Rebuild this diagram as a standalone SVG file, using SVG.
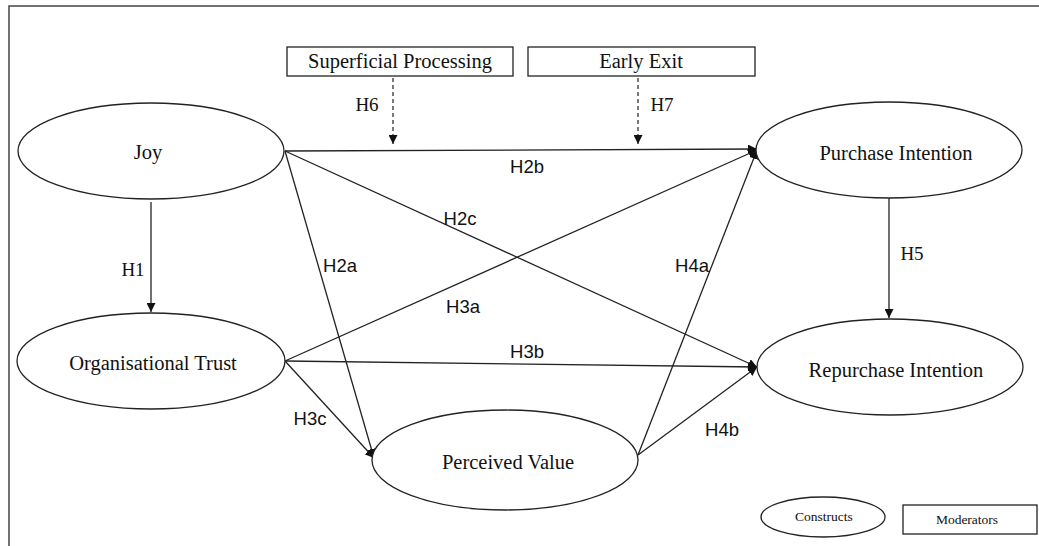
<svg xmlns="http://www.w3.org/2000/svg" width="1039" height="546" viewBox="0 0 1039 546">
<style>
.node{fill:#fff;stroke:#222;stroke-width:1.3}
.t{font-family:"Liberation Serif","Times New Roman",serif;font-size:20.5px;fill:#111;text-anchor:middle}
.h{font-family:"Liberation Sans",Arial,sans-serif;font-size:18.5px;fill:#111;text-anchor:middle}
.hs{font-family:"Liberation Serif","Times New Roman",serif;font-size:19px;fill:#111;text-anchor:middle}
.c{stroke:#222;stroke-width:1.3;fill:none}
.d{stroke:#222;stroke-width:1.2;fill:none;stroke-dasharray:4 3}
.sm{font-family:"Liberation Serif","Times New Roman",serif;font-size:13.5px;fill:#111;text-anchor:middle}
</style>
<defs>
<marker id="a" viewBox="0 0 10 10" refX="10" refY="5" markerWidth="9" markerHeight="9" markerUnits="userSpaceOnUse" orient="auto">
<path d="M0,0 L10,5 L0,10 z" fill="#111"/>
</marker>
</defs>
<rect width="1039" height="546" fill="#fff"/>
<g id="frame">
<path d="M9,546 V6 H1039" fill="none" stroke="#444" stroke-width="1.5"/>
</g>
<g id="connectors">
<line class="c" x1="151" y1="202" x2="151" y2="312" marker-end="url(#a)"/>
<line class="c" x1="889" y1="198" x2="889" y2="318" marker-end="url(#a)"/>
<line class="c" x1="285" y1="151" x2="757" y2="149" marker-end="url(#a)"/>
<line class="c" x1="285" y1="151" x2="757" y2="367" marker-end="url(#a)"/>
<line class="c" x1="285" y1="151" x2="374" y2="458" marker-end="url(#a)"/>
<line class="c" x1="285" y1="361" x2="757" y2="150" marker-end="url(#a)"/>
<line class="c" x1="285" y1="361" x2="757" y2="367" marker-end="url(#a)"/>
<line class="c" x1="285" y1="361" x2="374" y2="458" marker-end="url(#a)"/>
<line class="c" x1="638" y1="455" x2="757" y2="150" marker-end="url(#a)"/>
<line class="c" x1="638" y1="455" x2="757" y2="367" marker-end="url(#a)"/>
<line class="d" x1="393" y1="78" x2="393" y2="144" marker-end="url(#a)"/>
<line class="d" x1="638" y1="78" x2="638" y2="144" marker-end="url(#a)"/>
<text class="hs" x="133" y="276">H1</text>
<text class="hs" x="912" y="260">H5</text>
<text class="hs" x="367" y="111">H6</text>
<text class="hs" x="662" y="111">H7</text>
<text class="h" x="527" y="173">H2b</text>
<text class="h" x="460" y="225">H2c</text>
<text class="h" x="340" y="272">H2a</text>
<text class="h" x="463" y="313">H3a</text>
<text class="h" x="527" y="358">H3b</text>
<text class="h" x="310" y="425">H3c</text>
<text class="h" x="692" y="272">H4a</text>
<text class="h" x="722" y="436">H4b</text>
</g>
<g id="joy">
<ellipse class="node" cx="151" cy="151" rx="133" ry="48"/>
<text class="t" x="148" y="159">Joy</text>
</g>
<g id="trust">
<ellipse class="node" cx="151" cy="361" rx="134" ry="48"/>
<text class="t" x="153" y="370">Organisational Trust</text>
</g>
<g id="purchase">
<ellipse class="node" cx="889" cy="150" rx="133" ry="48"/>
<text class="t" x="896" y="160">Purchase Intention</text>
</g>
<g id="repurchase">
<ellipse class="node" cx="890" cy="367" rx="133" ry="48"/>
<text class="t" x="896" y="377">Repurchase Intention</text>
</g>
<g id="perceived">
<ellipse class="node" cx="505" cy="460" rx="133" ry="50"/>
<text class="t" x="508" y="469">Perceived Value</text>
</g>
<g id="superficial">
<rect class="node" x="287" y="47" width="226" height="29"/>
<text class="t" x="400" y="68">Superficial Processing</text>
</g>
<g id="earlyexit">
<rect class="node" x="528" y="47" width="227" height="29"/>
<text class="t" x="641" y="68">Early Exit</text>
</g>
<g id="legend-constructs">
<ellipse class="node" cx="823" cy="517" rx="62" ry="20"/>
<text class="sm" x="824" y="521">Constructs</text>
</g>
<g id="legend-moderators">
<rect class="node" x="903" y="505" width="134" height="29"/>
<text class="sm" x="967" y="524">Moderators</text>
</g>
</svg>
